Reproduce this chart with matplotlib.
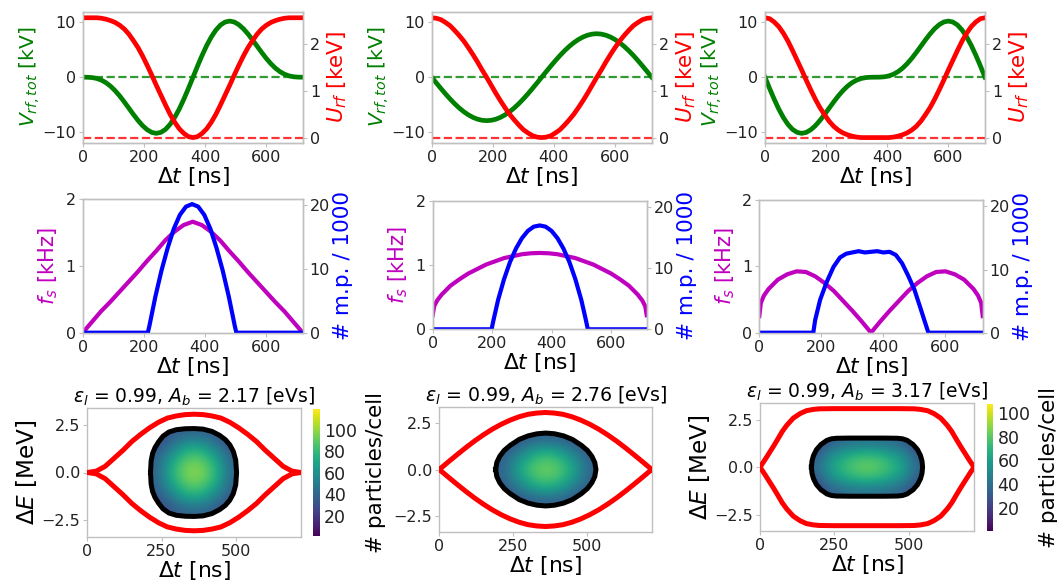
import matplotlib
matplotlib.use("Agg")
import matplotlib.pyplot as plt
from matplotlib.patches import Polygon
import numpy as np

W, H = 1057, 583

# ---------------- data ----------------
t_fine = [0, 15, 30, 45, 60, 75, 90, 105, 120, 135, 150, 165, 180, 195, 210, 225, 240, 255,
          270, 285, 300, 315, 330, 345, 360, 375, 390, 405, 420, 435, 450, 465, 480, 495,
          510, 525, 540, 555, 570, 585, 600, 615, 630, 645, 660, 675, 690, 705, 720]
t_grid = [0, 30, 60, 90, 120, 150, 180, 210, 240, 270, 300, 330, 360,
          390, 420, 450, 480, 510, 540, 570, 600, 630, 660, 690, 720]

# top row: total RF voltage [kV] and RF potential [keV]
v_tot_1 = [0, -0.01, -0.07, -0.23, -0.53, -0.99, -1.63, -2.44, -3.40, -4.48, -5.62, -6.77, -7.85,
           -8.80, -9.54, -10.03, -10.20, -10.02, -9.48, -8.57, -7.32, -5.78, -3.99, -2.04, 0,
           2.04, 3.99, 5.78, 7.32, 8.57, 9.48, 10.02, 10.20, 10.03, 9.54, 8.80, 7.85, 6.77,
           5.62, 4.48, 3.40, 2.44, 1.63, 0.99, 0.53, 0.23, 0.07, 0.01, 0]
u_rf_1 = [2.57, 2.57, 2.57, 2.57, 2.56, 2.54, 2.51, 2.47, 2.41, 2.33, 2.22, 2.08, 1.93, 1.75,
          1.55, 1.34, 1.12, 0.91, 0.70, 0.50, 0.33, 0.19, 0.09, 0.02, 0.00, 0.02, 0.09, 0.19,
          0.33, 0.50, 0.70, 0.91, 1.12, 1.34, 1.55, 1.75, 1.93, 2.08, 2.22, 2.33, 2.41, 2.47,
          2.51, 2.54, 2.56, 2.57, 2.57, 2.57, 2.57]
v_tot_2 = [0, -1.03, -2.04, -3.02, -3.95, -4.81, -5.59, -6.27, -6.84, -7.30, -7.63, -7.83, -7.90,
           -7.83, -7.63, -7.30, -6.84, -6.27, -5.59, -4.81, -3.95, -3.02, -2.04, -1.03, 0,
           1.03, 2.04, 3.02, 3.95, 4.81, 5.59, 6.27, 6.84, 7.30, 7.63, 7.83, 7.90, 7.83,
           7.63, 7.30, 6.84, 6.27, 5.59, 4.81, 3.95, 3.02, 2.04, 1.03, 0]
u_rf_2 = [2.57, 2.56, 2.53, 2.47, 2.40, 2.30, 2.19, 2.07, 1.93, 1.78, 1.62, 1.45, 1.29, 1.12,
          0.95, 0.79, 0.64, 0.50, 0.38, 0.27, 0.17, 0.10, 0.04, 0.01, 0.00, 0.01, 0.04, 0.10,
          0.17, 0.27, 0.38, 0.50, 0.64, 0.79, 0.95, 1.12, 1.29, 1.45, 1.62, 1.78, 1.93, 2.07,
          2.19, 2.30, 2.40, 2.47, 2.53, 2.56, 2.57]
v_tot_3 = [0, -2.04, -3.99, -5.78, -7.32, -8.57, -9.48, -10.02, -10.20, -10.03, -9.54, -8.80,
           -7.85, -6.77, -5.62, -4.48, -3.40, -2.44, -1.63, -0.99, -0.53, -0.23, -0.07, -0.01, 0,
           0.01, 0.07, 0.23, 0.53, 0.99, 1.63, 2.44, 3.40, 4.48, 5.62, 6.77, 7.85, 8.80,
           9.54, 10.03, 10.20, 10.02, 9.48, 8.57, 7.32, 5.78, 3.99, 2.04, 0]
u_rf_3 = [2.57, 2.55, 2.48, 2.38, 2.24, 2.07, 1.87, 1.66, 1.45, 1.23, 1.02, 0.82, 0.64, 0.49,
          0.35, 0.24, 0.16, 0.10, 0.06, 0.03, 0.01, 0.00, 0.00, 0.00, 0.00, 0.00, 0.00, 0.00,
          0.01, 0.03, 0.06, 0.10, 0.16, 0.24, 0.35, 0.49, 0.64, 0.82, 1.02, 1.23, 1.45, 1.66,
          1.87, 2.07, 2.24, 2.38, 2.48, 2.55, 2.57]

# middle row: synchrotron frequency [kHz] and line density [m.p./1000]
fs_1 = [0, 0.16, 0.32, 0.46, 0.61, 0.76, 0.91, 1.07, 1.22, 1.38, 1.51, 1.61, 1.66,
        1.61, 1.51, 1.38, 1.22, 1.07, 0.91, 0.76, 0.61, 0.46, 0.32, 0.16, 0]
t_fs = [0, 5, 15, 30, 60, 90, 120, 150, 180, 210, 240, 270, 300, 330, 360,
        390, 420, 450, 480, 510, 540, 570, 600, 630, 660, 690, 705, 715, 720]
fs_2 = [0.22, 0.36, 0.45, 0.54, 0.68, 0.78, 0.87, 0.94, 1.01, 1.06, 1.11, 1.14, 1.17, 1.185, 1.19,
        1.185, 1.17, 1.14, 1.11, 1.06, 1.01, 0.94, 0.87, 0.78, 0.68, 0.54, 0.45, 0.36, 0.22]
fs_3 = [0.25, 0.45, 0.56, 0.66, 0.80, 0.88, 0.925, 0.915, 0.85, 0.75, 0.63, 0.48, 0.33, 0.17, 0.0,
        0.17, 0.33, 0.48, 0.63, 0.75, 0.85, 0.915, 0.925, 0.88, 0.80, 0.66, 0.56, 0.45, 0.25]

t_mp_1 = [0, 213, 218, 238, 258, 278, 298, 318, 338, 358, 378, 398, 418, 438, 458, 478, 498, 503, 720]
mp_1 = [0, 0, 1.0, 5.7, 9.8, 13.3, 16.3, 18.5, 19.8, 20.2, 19.8, 18.5, 16.3, 13.3, 9.8, 5.7, 1.0, 0, 0]
t_mp_2 = [0, 198, 205, 220, 240, 260, 280, 300, 320, 340, 360, 380, 400, 420, 440, 460, 480, 500, 515, 522, 720]
mp_2 = [0, 0, 1.6, 4.8, 8.2, 11.0, 13.2, 14.9, 16.1, 16.8, 17.0, 16.8, 16.1, 14.9, 13.2, 11.0, 8.2, 4.8, 1.6, 0, 0]
t_mp_3 = [0, 174, 180, 196, 217, 239, 260, 280, 300, 320, 340, 360, 380, 400, 420, 440, 460, 480, 500, 520, 535, 545, 720]
mp_3 = [0, 0, 2.0, 5.2, 8.0, 10.4, 11.9, 12.5, 12.7, 12.9, 12.7, 12.8, 12.9, 12.7, 12.8, 12.3, 11.0, 9.0, 6.8, 3.8, 1.5, 0, 0]

# bottom row: separatrix (upper half) [MeV]
sep_1 = [0, 0.07, 0.32, 0.74, 1.16, 1.62, 2.0, 2.34, 2.63, 2.85, 2.96, 3.03, 3.05,
         3.03, 2.96, 2.85, 2.63, 2.34, 2.0, 1.62, 1.16, 0.74, 0.32, 0.07, 0]
sep_2 = [0, 0.40, 0.79, 1.17, 1.53, 1.86, 2.16, 2.42, 2.64, 2.82, 2.95, 3.02, 3.05,
         3.02, 2.95, 2.82, 2.64, 2.42, 2.16, 1.86, 1.53, 1.17, 0.79, 0.40, 0]
t_sep_3 = [0, 15, 30, 45, 60, 75, 90, 112, 135, 156, 180, 201, 250, 360, 470, 519, 540,
           564, 585, 608, 630, 645, 660, 675, 690, 705, 720]
sep_3 = [0, 0.35, 0.72, 1.09, 1.48, 1.88, 2.2, 2.58, 2.82, 2.97, 3.04, 3.07, 3.08, 3.08, 3.08,
         3.07, 3.04, 2.97, 2.82, 2.58, 2.2, 1.88, 1.48, 1.09, 0.72, 0.35, 0]

# bunch contour (upper half) [MeV]
t_bc_1 = [213, 215, 220, 228, 240, 255, 275, 300, 330, 360, 390, 420, 445, 465, 480, 492, 500, 503]
bc_1 = [0, 0.6, 1.0, 1.3, 1.6, 1.9, 2.12, 2.24, 2.29, 2.3, 2.27, 2.15, 1.95, 1.72, 1.45, 1.1, 0.65, 0]
t_bc_2 = [191, 195, 205, 220, 241, 271, 301, 331, 361, 391, 421, 451, 481, 502, 517, 527, 531]
bc_2 = [0, 0.38, 0.71, 1.02, 1.30, 1.61, 1.80, 1.91, 1.95, 1.91, 1.80, 1.61, 1.30, 1.02, 0.71, 0.38, 0]
t_bc_3 = [173, 175, 180, 190, 205, 225, 240, 257, 300, 360, 420, 463, 480, 495, 515, 530, 540, 545, 547]
bc_3 = [0, 0.33, 0.61, 0.92, 1.19, 1.41, 1.49, 1.52, 1.53, 1.53, 1.53, 1.52, 1.49, 1.41, 1.19, 0.92, 0.61, 0.33, 0]

# particle density inside the bunch [particles/cell]
dens_1 = [[25, 32, 38, 40, 38, 32, 25],
          [32, 45, 65, 72, 65, 45, 32],
          [38, 65, 84, 92, 84, 65, 38],
          [40, 72, 92, 100, 92, 72, 40],
          [38, 65, 84, 92, 84, 65, 38],
          [32, 45, 65, 72, 65, 45, 32],
          [25, 32, 38, 40, 38, 32, 25]]
dens_2 = [[22, 30, 35, 37, 35, 30, 22],
          [30, 42, 58, 65, 58, 42, 30],
          [35, 58, 76, 84, 76, 58, 35],
          [37, 65, 84, 90, 84, 65, 37],
          [35, 58, 76, 84, 76, 58, 35],
          [30, 42, 58, 65, 58, 42, 30],
          [22, 30, 35, 37, 35, 30, 22]]
dens_3 = [[22, 32, 38, 40, 42, 40, 38, 32, 22],
          [30, 52, 62, 70, 72, 70, 62, 52, 30],
          [38, 60, 72, 80, 84, 80, 72, 60, 38],
          [30, 52, 62, 70, 72, 70, 62, 52, 30],
          [22, 32, 38, 40, 42, 40, 38, 32, 22]]

titles = [r'$\epsilon_l$ = 0.99, $A_b$ = 2.17 [eVs]',
          r'$\epsilon_l$ = 0.99, $A_b$ = 2.76 [eVs]',
          r'$\epsilon_l$ = 0.99, $A_b$ = 3.17 [eVs]']
cbar_max = [119, 115, 107]

# ---------------- layout ----------------
def box(l, t, r, b):
    return [l / W, 1 - b / H, (r - l) / W, (b - t) / H]

top_boxes = [(83, 11.7, 303, 142.7), (431.7, 11.7, 651.7, 142.7), (765, 11.7, 985, 142.7)]
mid_boxes = [(82.7, 199, 302.7, 332.7), (432.7, 201, 646.7, 329.3), (759.3, 200, 982.7, 332.7)]
bot_boxes = [(87.3, 408.3, 301, 536.7), (439.3, 406.7, 651.7, 532.3), (760, 403.3, 974, 531)]
cb_boxes = {0: (313.3, 409.3, 320, 536), 2: (987.3, 404.3, 993.3, 531)}

SPINE = '#c0c0c0'
TICKFS = 11.5
LABFS = 15.5

fig = plt.figure(figsize=(W / 100, H / 100), dpi=100)


def style(ax):
    for s in ax.spines.values():
        s.set_color(SPINE)
        s.set_linewidth(1.0)
    ax.tick_params(labelsize=TICKFS, length=3, color=SPINE, labelcolor='#222222', pad=2)


xlabels, vlabels, elabels, flabels, titles_t = [], [], [], [], []

# top row
for i, (v, u) in enumerate([(v_tot_1, u_rf_1), (v_tot_2, u_rf_2), (v_tot_3, u_rf_3)]):
    ax = fig.add_axes(box(*top_boxes[i]))
    ax2 = ax.twinx()
    ax.plot(t_fine, v, color='green', lw=3.4)
    ax.axhline(0, color='green', ls='--', lw=1.6, alpha=0.8)
    ax2.plot(t_fine, u, color='red', lw=3.4)
    ax2.axhline(0, color='red', ls='--', lw=1.6, alpha=0.8)
    ax.set_xlim(0, 720)
    ax.set_ylim(-11.9, 11.9)
    ax2.set_ylim(-0.11, 2.70)
    ax.set_xticks([0, 200, 400, 600])
    ax.set_yticks([-10, 0, 10])
    ax2.set_yticks([0, 1, 2])
    xlabels.append(ax.set_xlabel(r'$\Delta t$ [ns]', fontsize=LABFS, labelpad=0))
    vlabels.append(ax.set_ylabel(r'$V_{rf,tot}$ [kV]', fontsize=LABFS, color='green', labelpad=0))
    ax2.set_ylabel(r'$U_{rf}$ [keV]', fontsize=LABFS, color='red', labelpad=4)
    style(ax)
    style(ax2)

# middle row
for i, (tf, f, tm, m) in enumerate([(t_grid, fs_1, t_mp_1, mp_1),
                                    (t_fs, fs_2, t_mp_2, mp_2),
                                    (t_fs, fs_3, t_mp_3, mp_3)]):
    ax = fig.add_axes(box(*mid_boxes[i]))
    ax2 = ax.twinx()
    ax.plot(tf, f, color='m', lw=3.0)
    ax2.plot(tm, m, color='blue', lw=3.0)
    ax.set_xlim(0, 720)
    ax.set_ylim(0, 2)
    ax2.set_ylim(0, 21)
    ax.set_xticks([0, 200, 400, 600])
    ax.set_yticks([0, 1, 2])
    ax2.set_yticks([0, 10, 20])
    xlabels.append(ax.set_xlabel(r'$\Delta t$ [ns]', fontsize=LABFS, labelpad=0))
    flabels.append(ax.set_ylabel(r'$f_s$ [kHz]', fontsize=LABFS, color='m', labelpad=4))
    ax2.set_ylabel('# m.p. / 1000', fontsize=LABFS, color='blue', labelpad=2)
    style(ax)
    style(ax2)

# bottom row
bottom_sets = [(t_grid, sep_1, t_bc_1, bc_1, dens_1),
               (t_grid, sep_2, t_bc_2, bc_2, dens_2),
               (t_sep_3, sep_3, t_bc_3, bc_3, dens_3)]
for i, (ts, sp, tb, bc, dn) in enumerate(bottom_sets):
    ax = fig.add_axes(box(*bot_boxes[i]))
    tb_a = np.asarray(tb, float)
    bc_a = np.asarray(bc, float)
    cx = np.concatenate([tb_a, tb_a[::-1]])
    cy = np.concatenate([bc_a, -bc_a[::-1]])
    im = ax.imshow(np.asarray(dn, float), extent=[tb_a.min(), tb_a.max(), -bc_a.max(), bc_a.max()],
                   origin='lower', aspect='auto', cmap='viridis', vmin=1, vmax=cbar_max[i],
                   interpolation='bicubic', zorder=1)
    clip = Polygon(np.column_stack([cx, cy]), closed=True, transform=ax.transData)
    im.set_clip_path(clip)
    ax.plot(cx, cy, color='black', lw=3.6, zorder=3)
    ts_a = np.asarray(ts, float)
    sp_a = np.asarray(sp, float)
    ax.plot(ts_a, sp_a, color='red', lw=3.6, zorder=4)
    ax.plot(ts_a, -sp_a, color='red', lw=3.6, zorder=4)
    ax.set_xlim(0, 720)
    ax.set_ylim(-3.36, 3.36)
    ax.set_xticks([0, 250, 500])
    ax.set_yticks([-2.5, 0.0, 2.5])
    xlabels.append(ax.set_xlabel(r'$\Delta t$ [ns]', fontsize=LABFS, labelpad=0))
    if i != 1:
        elabels.append(ax.set_ylabel(r'$\Delta E$ [MeV]', fontsize=LABFS, labelpad=2))
    titles_t.append(ax.set_title(titles[i], fontsize=14.5, pad=2))
    style(ax)
    if i in cb_boxes:
        cax = fig.add_axes(box(*cb_boxes[i]))
        cb = fig.colorbar(im, cax=cax)
        cb.set_ticks([20, 40, 60, 80, 100])
        cb.outline.set_visible(False)
        cax.tick_params(labelsize=12.5, length=0, pad=3, labelcolor='#222222')
        cb.set_label('# particles/cell', fontsize=LABFS, labelpad=6)

# fit text sizes to the measured extents of the reference (pixels)
fig.canvas.draw()
rend = fig.canvas.get_renderer()


def fit(texts, target, use_height=False):
    for tx in texts:
        bb = tx.get_window_extent(rend)
        size = bb.height if use_height else bb.width
        if size > 0:
            tx.set_fontsize(tx.get_fontsize() * target / size)


fit(titles_t, 242)
fit(xlabels, 73)
fit(vlabels, 100, use_height=True)
fit(elabels, 106, use_height=True)
fit(flabels, 78, use_height=True)

fig.savefig('out.png', dpi=100)
